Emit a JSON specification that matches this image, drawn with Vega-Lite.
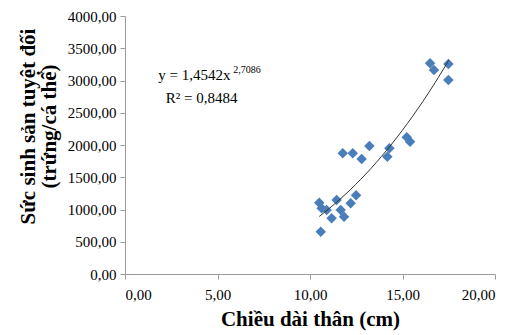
{
  "$schema": "https://vega.github.io/schema/vega-lite/v6.json",
  "width": 370,
  "height": 258,
  "autosize": "none",
  "padding": {"left": 125, "top": 16, "right": 23, "bottom": 61},
  "background": "white",
  "config": {
    "view": {"stroke": null},
    "locale": {"number": {"decimal": ",", "thousands": ".", "grouping": [3], "currency": ["", ""]}},
    "font": "Liberation Serif",
    "axis": {"labelFont": "Liberation Serif", "titleFont": "Liberation Serif", "labelOverlap": false},
    "text": {"font": "Liberation Serif"}
  },
  "datasets": {
    "pts": [
      {"len": 16.49, "fec": 3267},
      {"len": 16.70, "fec": 3163},
      {"len": 17.48, "fec": 3256},
      {"len": 17.48, "fec": 3008},
      {"len": 15.23, "fec": 2119},
      {"len": 15.41, "fec": 2051},
      {"len": 14.29, "fec": 1948},
      {"len": 14.18, "fec": 1819},
      {"len": 13.21, "fec": 1984},
      {"len": 12.79, "fec": 1783},
      {"len": 12.31, "fec": 1871},
      {"len": 11.77, "fec": 1871},
      {"len": 12.49, "fec": 1220},
      {"len": 12.20, "fec": 1096},
      {"len": 11.44, "fec": 1147},
      {"len": 11.66, "fec": 992},
      {"len": 11.84, "fec": 888},
      {"len": 11.17, "fec": 863},
      {"len": 10.50, "fec": 1106},
      {"len": 10.63, "fec": 1019},
      {"len": 10.90, "fec": 992},
      {"len": 10.58, "fec": 656}
    ],
    "ann": [
      {"len": 1.8, "fec": 3085, "t": "y = 1,4542x"},
      {"len": 2.2, "fec": 2729, "t": "R² = 0,8484"}
    ],
    "sup": [
      {"len": 5.85, "fec": 3165, "t": "2,7086"}
    ]
  },
  "encoding": {
    "x": {
      "field": "len", "type": "quantitative",
      "scale": {"domain": [0, 20], "nice": false},
      "axis": {
        "values": [0, 5, 10, 15, 20], "format": ".2f", "grid": false, "labelOverlap": false,
        "title": "Chiều dài thân (cm)", "titleFont": "Liberation Serif", "titleFontSize": 21, "titleFontWeight": "bold", "titleColor": "#000000", "titlePadding": 6,
        "labelFont": "Liberation Serif", "labelFontSize": 15, "labelColor": "#000000", "labelPadding": 8,
        "domainColor": "#9a9a9a", "tickColor": "#9a9a9a", "tickSize": 5
      }
    },
    "y": {
      "field": "fec", "type": "quantitative",
      "scale": {"domain": [0, 4000], "nice": false},
      "axis": {
        "values": [0, 500, 1000, 1500, 2000, 2500, 3000, 3500, 4000], "format": ".2f", "grid": false, "labelOverlap": false,
        "title": ["Sức sinh sản tuyệt đối", "(trứng/cá thể)"], "titleFont": "Liberation Serif", "titleFontSize": 21, "titleFontWeight": "bold", "titleColor": "#000000", "titlePadding": 8, "titleLineHeight": 21, "titleY": 110,
        "labelFont": "Liberation Serif", "labelFontSize": 15, "labelColor": "#000000", "labelPadding": 4,
        "domainColor": "#9a9a9a", "tickColor": "#9a9a9a", "tickSize": 5
      }
    }
  },
  "layer": [
    {
      "data": {"name": "pts"},
      "mark": {"type": "point", "shape": "diamond", "filled": true, "size": 110, "color": "#4a7ebb", "opacity": 1}
    },
    {
      "data": {"name": "pts"},
      "transform": [{"regression": "fec", "on": "len", "method": "pow", "extent": [10.5, 17.5]}],
      "mark": {"type": "line", "color": "#333333", "strokeWidth": 1}
    },
    {
      "data": {"name": "ann"},
      "mark": {"type": "text", "font": "Liberation Serif", "fontSize": 15, "color": "#000000", "align": "left", "baseline": "middle"},
      "encoding": {"text": {"field": "t"}}
    },
    {
      "data": {"name": "sup"},
      "mark": {"type": "text", "font": "Liberation Serif", "fontSize": 10, "color": "#000000", "align": "left", "baseline": "middle"},
      "encoding": {"text": {"field": "t"}}
    }
  ]
}
